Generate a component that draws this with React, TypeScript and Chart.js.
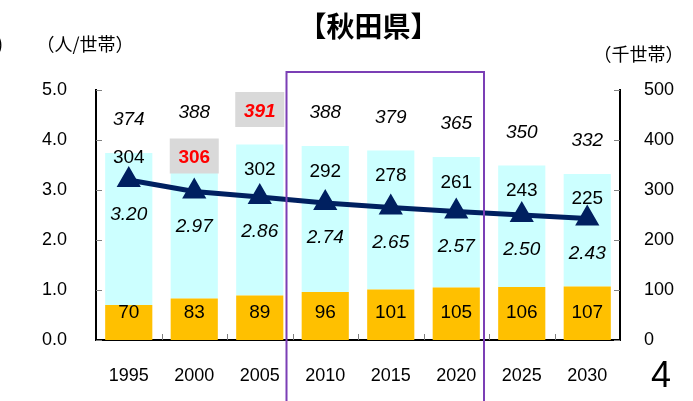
import React, { useEffect, useRef } from 'react';
import { Chart, registerables } from 'chart.js';

Chart.register(...registerables);

// ---- data ----
const years = ['1995', '2000', '2005', '2010', '2015', '2020', '2025', '2030'];
const personsPerHousehold = [3.2, 2.97, 2.86, 2.74, 2.65, 2.57, 2.5, 2.43];
const totalHouseholds = [374, 388, 391, 388, 379, 365, 350, 332];
const otherHouseholds = [304, 306, 302, 292, 278, 261, 243, 225];
const elderlyHouseholds = [70, 83, 89, 96, 101, 105, 106, 107];

const titleText = '【秋田県】';
const leftUnit = '（人/世帯）';
const rightUnit = '（千世帯）';
const pageNumber = '4';

// ---- styles ----
const NUM = '"Liberation Sans", Arial, sans-serif';
const JP = '"Noto Sans CJK JP", "Noto Sans", sans-serif';
const CYAN = '#CCFFFF';
const ORANGE = '#FFC000';
const NAVY = '#002060';
const PURPLE = '#7B3FB5';
const HILITE_BG = '#D9D9D9';

// label nudges (distance of the "other" label below the bar top)
const otherLabelGap = [5, 12.5, 25.5, 26, 25.5, 26, 25.5, 25];
const highlightOther = 1;
const highlightTotal = 2;

function drawBoxLabel(ctx: CanvasRenderingContext2D, text: string, x: number, y: number) {
  ctx.fillStyle = HILITE_BG;
  ctx.fillRect(x - 24.5, y - 19.5, 49, 35);
}

const overlayPlugin = {
  id: 'overlay',
  afterDatasetsDraw(chart: any) {
    const ctx: CanvasRenderingContext2D = chart.ctx;
    const lineMeta = chart.getDatasetMeta(0);
    const baseMeta = chart.getDatasetMeta(1);
    const topMeta = chart.getDatasetMeta(2);
    ctx.save();
    ctx.textAlign = 'center';
    ctx.textBaseline = 'middle';
    years.forEach((_, i) => {
      const topBar = topMeta.data[i];
      const baseBar = baseMeta.data[i];
      const pt = lineMeta.data[i];
      const x = topBar.x;
      // total label
      const ty = topBar.y - 33;
      if (i === highlightTotal) {
        drawBoxLabel(ctx, '', x, ty);
        ctx.fillStyle = '#FF0000';
        ctx.font = `italic bold 19px ${NUM}`;
      } else {
        ctx.fillStyle = '#000';
        ctx.font = `italic 19px ${NUM}`;
      }
      ctx.fillText(String(totalHouseholds[i]), x, ty);
      // other households label
      const oy = topBar.y + otherLabelGap[i];
      if (i === highlightOther) {
        drawBoxLabel(ctx, '', x, oy);
        ctx.fillStyle = '#FF0000';
        ctx.font = `bold 19px ${NUM}`;
      } else {
        ctx.fillStyle = '#000';
        ctx.font = `19px ${NUM}`;
      }
      ctx.fillText(String(otherHouseholds[i]), x, oy);
      // elderly label
      ctx.fillStyle = '#000';
      ctx.font = `19px ${NUM}`;
      ctx.fillText(String(elderlyHouseholds[i]), x, baseBar.base - 27.5);
      // persons per household label
      ctx.font = `italic 19px ${NUM}`;
      ctx.fillText(personsPerHousehold[i].toFixed(2), x, pt.y + 35);
    });
    ctx.restore();
  },
  afterDraw(chart: any) {
    const ctx: CanvasRenderingContext2D = chart.ctx;
    const area = chart.chartArea;
    const yL = chart.scales.y;
    const yR = chart.scales.y1;
    const xS = chart.scales.x;
    ctx.save();
    // inward tick marks
    ctx.strokeStyle = '#808080';
    ctx.lineWidth = 1;
    ctx.beginPath();
    yL.ticks.forEach((t: any) => {
      const py = Math.round(yL.getPixelForValue(t.value)) + 0.5;
      ctx.moveTo(area.left, py);
      ctx.lineTo(area.left + 6, py);
    });
    yR.ticks.forEach((t: any) => {
      const py = Math.round(yR.getPixelForValue(t.value)) + 0.5;
      ctx.moveTo(area.right - 6, py);
      ctx.lineTo(area.right, py);
    });
    const step = (area.right - area.left) / years.length;
    for (let i = 1; i < years.length; i++) {
      const px = Math.round(area.left + i * step) + 0.5;
      ctx.moveTo(px, area.bottom - 6);
      ctx.lineTo(px, area.bottom);
    }
    ctx.stroke();

    // texts
    ctx.fillStyle = '#000';
    ctx.textBaseline = 'middle';
    ctx.textAlign = 'center';
    ctx.font = `bold 28px ${JP}`;
    ctx.fillText(titleText, 368.5, 26);
    ctx.font = `18px ${JP}`;
    ctx.fillText(leftUnit, 85, 44);
    ctx.fillText(rightUnit, 638.5, 54);
    ctx.textAlign = 'right';
    ctx.fillText(')', 3, 44);
    ctx.textAlign = 'center';
    ctx.font = `36px ${NUM}`;
    ctx.fillText(pageNumber, 661, 377);

    // highlight frame
    ctx.strokeStyle = PURPLE;
    ctx.lineWidth = 2;
    ctx.strokeRect(xS.getPixelForValue(3) - step / 2 - 6, 72, step * 3 + 1, 340);
    ctx.restore();
  },
};

export default function App() {
  const ref = useRef<HTMLCanvasElement | null>(null);
  useEffect(() => {
    if (!ref.current) return;
    const chart = new Chart(ref.current, {
      type: 'bar',
      data: {
        labels: years,
        datasets: [
          {
            type: 'line',
            label: '世帯あたり人員',
            data: personsPerHousehold,
            yAxisID: 'y',
            borderColor: NAVY,
            backgroundColor: NAVY,
            borderWidth: 5,
            pointStyle: 'triangle',
            pointRadius: 12,
            pointBorderWidth: 2,
            pointBackgroundColor: NAVY,
            pointBorderColor: NAVY,
            tension: 0,
            order: 0,
          } as any,
          {
            type: 'bar',
            label: '高齢世帯',
            data: elderlyHouseholds,
            yAxisID: 'y1',
            backgroundColor: ORANGE,
            borderWidth: 0,
            barPercentage: 0.72,
            categoryPercentage: 1,
            stack: 's',
            order: 1,
          },
          {
            type: 'bar',
            label: 'その他世帯',
            data: otherHouseholds,
            yAxisID: 'y1',
            backgroundColor: CYAN,
            borderWidth: 0,
            barPercentage: 0.72,
            categoryPercentage: 1,
            stack: 's',
            order: 2,
          },
        ],
      },
      options: {
        animation: false,
        responsive: false,
        devicePixelRatio: 1,
        layout: { padding: { top: 90, left: 0, right: 0, bottom: 0 } },
        plugins: {
          legend: { display: false },
          tooltip: { enabled: false },
          title: { display: false },
        },
        scales: {
          x: {
            stacked: true,
            offset: true,
            grid: { display: false, drawTicks: false },
            border: { display: true, color: '#000', width: 2 },
            ticks: { color: '#000', font: { family: NUM, size: 18 }, padding: 25, maxRotation: 0 },
            afterFit: (s: any) => { s.height = 61; },
          },
          y: {
            position: 'left',
            min: 0,
            max: 5,
            grid: { display: false, drawTicks: false },
            border: { display: true, color: '#000', width: 2 },
            ticks: {
              stepSize: 1,
              color: '#000',
              font: { family: NUM, size: 18 },
              padding: 29,
              callback: (v: any) => Number(v).toFixed(1),
            },
            afterFit: (s: any) => { s.width = 96; },
          },
          y1: {
            position: 'right',
            stacked: true,
            min: 0,
            max: 500,
            grid: { display: false, drawTicks: false },
            border: { display: true, color: '#000', width: 2 },
            ticks: { stepSize: 100, color: '#000', font: { family: NUM, size: 18 }, padding: 24 },
            afterFit: (s: any) => { s.width = 73; },
          },
        },
      },
      plugins: [overlayPlugin],
    });
    return () => chart.destroy();
  }, []);
  return (
    <div style={{ position: 'absolute', left: 0, top: 0, width: 693, height: 401, background: '#fff' }}>
      <canvas ref={ref} width={693} height={401} />
    </div>
  );
}
